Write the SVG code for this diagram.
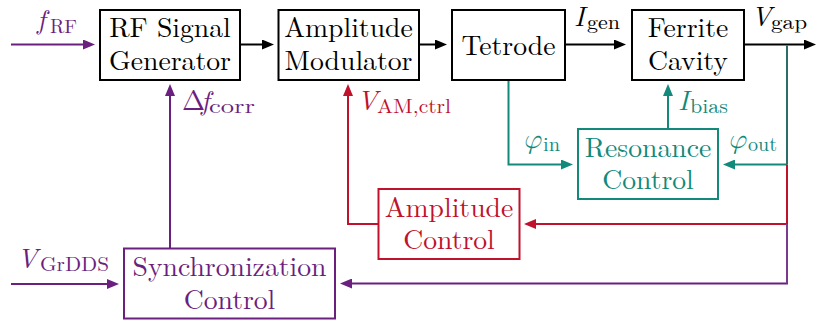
<svg xmlns="http://www.w3.org/2000/svg" width="817" height="323" viewBox="0 0 817 323" font-family="'Latin Modern Roman', 'Liberation Serif', serif">
<defs>
<style>
.box{fill:#fff;stroke-width:2}
.t{font-size:27.7px;text-anchor:middle}
.m{font-size:27.7px;font-style:italic}
.s{font-size:19.4px;font-style:normal}
.c{fill:none;stroke-width:2}
.k{stroke:#000}
.pu{stroke:#6b1f7e}
.re{stroke:#c0112d}
.te{stroke:#12897a}
.fk{fill:#000}
.fpu{fill:#6b1f7e}
.fre{fill:#c0112d}
.fte{fill:#12897a}
</style>
<marker id="ak" viewBox="0 0 12 10" refX="6" refY="5" markerWidth="12" markerHeight="10" markerUnits="userSpaceOnUse" orient="auto"><path d="M0,0 L12,5 L0,10 Z" fill="#000"/></marker>
<marker id="apu" viewBox="0 0 12 10" refX="6" refY="5" markerWidth="12" markerHeight="10" markerUnits="userSpaceOnUse" orient="auto"><path d="M0,0 L12,5 L0,10 Z" fill="#6b1f7e"/></marker>
<marker id="are" viewBox="0 0 12 10" refX="6" refY="5" markerWidth="12" markerHeight="10" markerUnits="userSpaceOnUse" orient="auto"><path d="M0,0 L12,5 L0,10 Z" fill="#c0112d"/></marker>
<marker id="ate" viewBox="0 0 12 10" refX="6" refY="5" markerWidth="12" markerHeight="10" markerUnits="userSpaceOnUse" orient="auto"><path d="M0,0 L12,5 L0,10 Z" fill="#12897a"/></marker>
</defs>
<rect width="817" height="323" fill="#fff"/>

<g id="connectors">
<path class="c pu" d="M11,44.5 H89" marker-end="url(#apu)"/>
<path class="c k" d="M241,44.5 H268" marker-end="url(#ak)"/>
<path class="c k" d="M420,44.5 H441" marker-end="url(#ak)"/>
<path class="c k" d="M566,44.5 H620" marker-end="url(#ak)"/>
<path class="c k" d="M745,44.5 H810" marker-end="url(#ak)"/>
<path class="c pu" d="M170,248 V90" marker-end="url(#apu)"/>
<path class="c re" d="M378,224 H348 V90" marker-end="url(#are)"/>
<path class="c te" d="M668,129 V90" marker-end="url(#ate)"/>
<path class="c te" d="M508.5,81 V164.5 H567" marker-end="url(#ate)"/>
<path class="c te" d="M787,164.5 H729" marker-end="url(#ate)"/>
<path class="c re" d="M787,164.5 V224 H530" marker-end="url(#are)"/>
<path class="c pu" d="M787,224 V283.5 H346" marker-end="url(#apu)"/>
<path class="c" stroke="#2c6d68" d="M787,45.5 V164.5"/>
<path class="c" stroke="#7a3a8e" d="M787,224 V283.5"/>
<path class="c pu" d="M11,284 H113" marker-end="url(#apu)"/>
</g>

<g id="labels">
<text class="m fpu" x="37" y="29">f<tspan class="s" x="50" y="33" textLength="27" lengthAdjust="spacingAndGlyphs">RF</tspan></text>
<text class="fpu" x="182" y="110" font-size="27.7" font-family="'Latin Modern Math', 'Latin Modern Roman', serif">Δ</text>
<text class="m fpu" x="201" y="110">f<tspan class="s" x="209" y="113" textLength="46" lengthAdjust="spacingAndGlyphs">corr</tspan></text>
<text class="m fre" x="357" y="110">V<tspan class="s" x="377" y="113" textLength="74" lengthAdjust="spacingAndGlyphs">AM,ctrl</tspan></text>
<text class="m fte" x="678" y="110">I<tspan class="s" x="690" y="113" textLength="38" lengthAdjust="spacingAndGlyphs">bias</tspan></text>
<text class="m fk" x="574" y="26">I<tspan class="s" x="587" y="29" textLength="33" lengthAdjust="spacingAndGlyphs">gen</tspan></text>
<text class="m fk" x="751" y="26">V<tspan class="s" x="771" y="29" textLength="36" lengthAdjust="spacingAndGlyphs">gap</tspan></text>
<text class="m fte" x="523" y="148"><tspan font-family="'Latin Modern Math', 'Latin Modern Roman', serif">φ</tspan><tspan class="s" x="543" y="151" textLength="17" lengthAdjust="spacingAndGlyphs">in</tspan></text>
<text class="m fte" x="728" y="148"><tspan font-family="'Latin Modern Math', 'Latin Modern Roman', serif">φ</tspan><tspan class="s" x="748" y="151" textLength="29" lengthAdjust="spacingAndGlyphs">out</tspan></text>
<text class="m fpu" x="17" y="268">V<tspan class="s" x="40" y="271" textLength="69" lengthAdjust="spacingAndGlyphs">GrDDS</tspan></text>
</g>

<g id="rf-signal-generator">
<rect class="box k" x="100" y="10" width="140" height="70"/>
<text class="t fk" x="170" y="37">RF Signal</text>
<text class="t fk" x="170" y="69.5">Generator</text>
</g>
<g id="amplitude-modulator">
<rect class="box k" x="278.5" y="10" width="140.5" height="70"/>
<text class="t fk" x="348.5" y="37">Amplitude</text>
<text class="t fk" x="348.5" y="69.5">Modulator</text>
</g>
<g id="tetrode">
<rect class="box k" x="452" y="10" width="113" height="70"/>
<text class="t fk" x="508.5" y="55">Tetrode</text>
</g>
<g id="ferrite-cavity">
<rect class="box k" x="632" y="10" width="112" height="70"/>
<text class="t fk" x="688" y="37">Ferrite</text>
<text class="t fk" x="688" y="69.5">Cavity</text>
</g>
<g id="resonance-control">
<rect class="box te" x="578" y="129" width="140" height="70"/>
<text class="t fte" x="648" y="157">Resonance</text>
<text class="t fte" x="648" y="189">Control</text>
</g>
<g id="amplitude-control">
<rect class="box re" x="378.5" y="189" width="141" height="70"/>
<text class="t fre" x="449" y="216.5">Amplitude</text>
<text class="t fre" x="449" y="249">Control</text>
</g>
<g id="synchronization-control">
<rect class="box pu" x="124" y="248.5" width="211" height="70"/>
<text class="t fpu" x="229.5" y="276">Synchronization</text>
<text class="t fpu" x="229.5" y="308.5">Control</text>
</g>
</svg>
